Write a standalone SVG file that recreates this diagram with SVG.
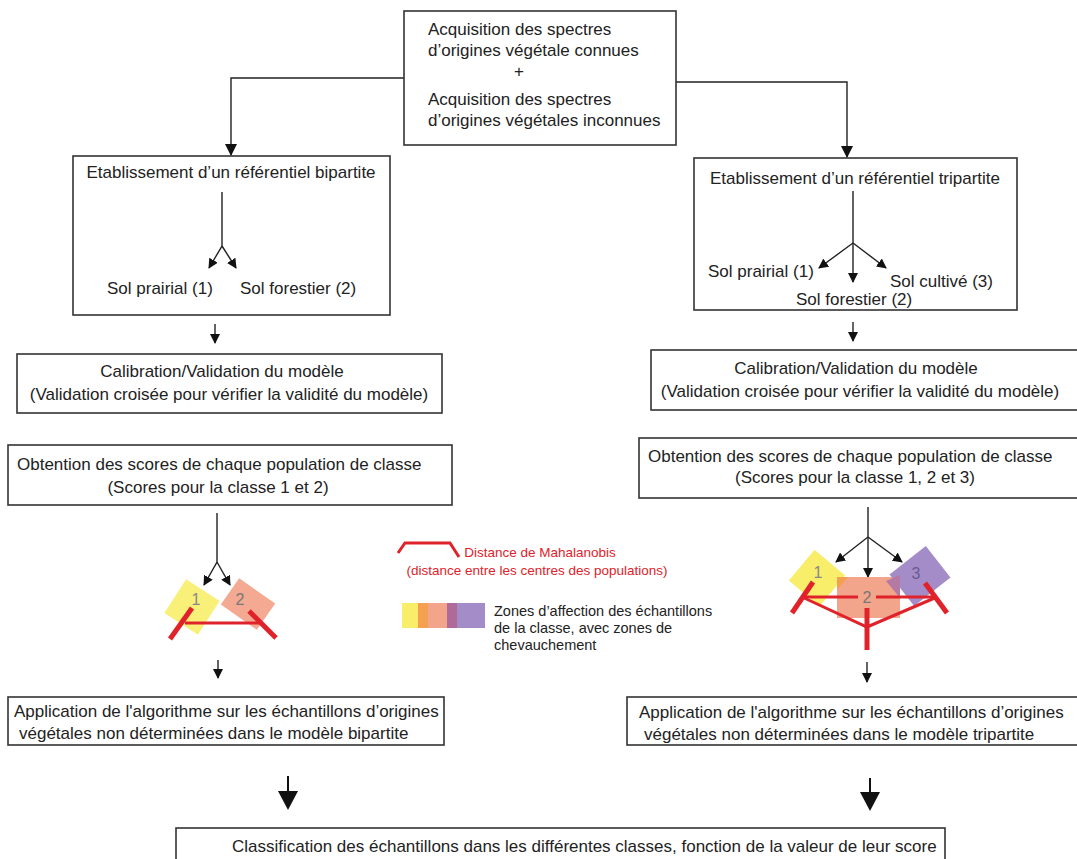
<svg xmlns="http://www.w3.org/2000/svg" width="1077" height="859" viewBox="0 0 1077 859">
<defs>
<style>
.box{fill:#fff;stroke:#333;stroke-width:1.6}
.t{font-family:"Liberation Sans",Arial,sans-serif;font-size:17px;fill:#222}
.tc{text-anchor:middle}
.ln{stroke:#222;stroke-width:1.4;fill:none}
.red{stroke:#e0222a;fill:none;stroke-linecap:butt}
.lg{font-family:"Liberation Sans",Arial,sans-serif;font-size:14.5px}
.lr{font-family:"Liberation Sans",Arial,sans-serif;font-size:13.5px;fill:#e0222a;text-anchor:middle}
</style>
<marker id="ah" markerWidth="10" markerHeight="10" refX="9" refY="5" orient="auto" markerUnits="userSpaceOnUse" viewBox="0 0 10 10">
<path d="M0,0 L10,5 L0,10 z" fill="#111"/>
</marker>
<marker id="ahs" markerWidth="12" markerHeight="12" refX="11" refY="6" orient="auto" markerUnits="userSpaceOnUse" viewBox="0 0 12 12">
<path d="M0,0 L12,6 L0,12 z" fill="#111"/>
</marker>
</defs>
<rect width="1077" height="859" fill="#fff"/>

<g id="connectors">
<path class="ln" d="M404,78 H231 V155" marker-end="url(#ahs)"/>
<path class="ln" d="M676,82 H847 V157" marker-end="url(#ahs)"/>
<path class="ln" d="M215,324 V343" marker-end="url(#ah)"/>
<path class="ln" d="M853,322 V341" marker-end="url(#ah)"/>
<path class="ln" d="M218,660 V678" marker-end="url(#ah)"/>
<path class="ln" d="M867,662 V682" marker-end="url(#ah)"/>
<line x1="288" y1="776" x2="288" y2="792" stroke="#111" stroke-width="2"/>
<polygon points="278,791 298,791 288,810" fill="#111"/>
<line x1="870" y1="778" x2="870" y2="793" stroke="#111" stroke-width="2"/>
<polygon points="860,792 880,792 870,811" fill="#111"/>
</g>

<g id="n-acquisition">
<rect class="box" x="404" y="11" width="272" height="134"/>
<text class="t" x="428" y="35">Acquisition des spectres</text>
<text class="t" x="428" y="56">d’origines végétale connues</text>
<text class="t" x="514" y="77">+</text>
<text class="t" x="428" y="105">Acquisition des spectres</text>
<text class="t" x="428" y="126">d’origines végétales inconnues</text>
</g>

<g id="n-bipartite">
<rect class="box" x="73" y="156" width="317" height="159"/>
<text class="t tc" x="231" y="178">Etablissement d’un référentiel bipartite</text>
<path class="ln" d="M222,192 V246 L209,268" marker-end="url(#ah)"/>
<path class="ln" d="M222,246 L236,268" marker-end="url(#ah)"/>
<text class="t" x="107" y="294">Sol prairial (1)</text>
<text class="t" x="240" y="294">Sol forestier (2)</text>
</g>

<g id="n-tripartite">
<rect class="box" x="694" y="158" width="323" height="152"/>
<text class="t tc" x="855" y="184">Etablissement d’un référentiel tripartite</text>
<path class="ln" d="M853,191 V243 L819,268" marker-end="url(#ah)"/>
<path class="ln" d="M853,243 V282" marker-end="url(#ah)"/>
<path class="ln" d="M853,243 L886,268" marker-end="url(#ah)"/>
<text class="t" x="708" y="277">Sol prairial (1)</text>
<text class="t" x="890" y="287">Sol cultivé (3)</text>
<text class="t" x="796" y="305">Sol forestier (2)</text>
</g>

<g id="n-calib-left">
<rect class="box" x="17" y="354" width="425" height="59"/>
<text class="t tc" x="222" y="377">Calibration/Validation du modèle</text>
<text class="t tc" x="229" y="400">(Validation croisée pour vérifier la validité du modèle)</text>
</g>

<g id="n-calib-right">
<rect class="box" x="651" y="350" width="430" height="60"/>
<text class="t tc" x="856" y="374">Calibration/Validation du modèle</text>
<text class="t tc" x="860" y="397">(Validation croisée pour vérifier la validité du modèle)</text>
</g>

<g id="n-scores-left">
<rect class="box" x="8" y="445" width="444" height="60"/>
<text class="t" x="17" y="470">Obtention des scores de chaque population de classe</text>
<text class="t tc" x="218" y="493">(Scores pour la classe 1  et 2)</text>
</g>

<g id="n-scores-right">
<rect class="box" x="639" y="438" width="442" height="60"/>
<text class="t" x="648" y="462">Obtention des scores de chaque population de classe</text>
<text class="t tc" x="855" y="483">(Scores pour la classe 1, 2 et 3)</text>
</g>

<g id="n-plot-left">
<path class="ln" d="M217,513 V562 L204,585" marker-end="url(#ah)"/>
<path class="ln" d="M217,562 L230,585" marker-end="url(#ah)"/>
<rect x="-20" y="-20" width="40" height="40" fill="#f8ee6a" opacity="0.9" transform="translate(192,607) rotate(33)"/>
<rect x="-22" y="-16" width="44" height="32" fill="#f3a58c" opacity="0.95" transform="translate(248,604) rotate(35)"/>
<text x="196" y="605" font-family="Liberation Sans,Arial,sans-serif" font-size="16" fill="#888" text-anchor="middle">1</text>
<text x="240" y="605" font-family="Liberation Sans,Arial,sans-serif" font-size="16" fill="#777" text-anchor="middle">2</text>
<line class="red" x1="192" y1="608" x2="170" y2="639" stroke-width="5"/>
<line class="red" x1="249" y1="611" x2="276" y2="638" stroke-width="5"/>
<line class="red" x1="185" y1="623" x2="260" y2="623" stroke-width="3"/>
</g>

<g id="n-plot-right">
<path class="ln" d="M868,507 V537 L836,562" marker-end="url(#ah)"/>
<path class="ln" d="M868,537 V577" marker-end="url(#ah)"/>
<path class="ln" d="M868,537 L902,562" marker-end="url(#ah)"/>
<rect x="-20" y="-20" width="40" height="40" fill="#f8ee6a" transform="translate(817,578) rotate(40)"/>
<rect x="837" y="577" width="63" height="41" fill="#f3a58c"/>
<path d="M837,577 L848,577 L837,590 z" fill="#f5a050"/>
<rect x="-23" y="-20" width="46" height="40" fill="#a48cc8" transform="translate(920,576) rotate(-38)"/>
<path d="M886,581 L900,575 L900,598 z" fill="#b47aa4"/>
<text x="818" y="578" font-family="Liberation Sans,Arial,sans-serif" font-size="16" fill="#888" text-anchor="middle">1</text>
<text x="916" y="579" font-family="Liberation Sans,Arial,sans-serif" font-size="16" fill="#6a5a90" text-anchor="middle">3</text>
<line class="red" x1="802" y1="597" x2="858" y2="597" stroke-width="3"/>
<line class="red" x1="876" y1="597" x2="937" y2="597" stroke-width="3"/>
<text x="867" y="603" font-family="Liberation Sans,Arial,sans-serif" font-size="16" fill="#777" text-anchor="middle">2</text>
<polyline class="red" points="802,597 867,627 937,597" stroke-width="3"/>
<line class="red" x1="813" y1="582" x2="792" y2="613" stroke-width="5"/>
<line class="red" x1="925" y1="583" x2="947" y2="613" stroke-width="5"/>
<line class="red" x1="867" y1="608" x2="867" y2="650" stroke-width="5"/>
</g>

<g id="n-legend">
<polyline class="red" points="398,553 405,543 450,543 459,557" stroke-width="3"/>
<text class="lr" x="540" y="557">Distance de Mahalanobis</text>
<text class="lr" x="537" y="575">(distance entre les centres des populations)</text>
<rect x="402" y="603" width="16" height="25" fill="#f8ee6a"/>
<rect x="418" y="603" width="10" height="25" fill="#f5a050"/>
<rect x="428" y="603" width="19" height="25" fill="#f3a58c"/>
<rect x="447" y="603" width="10" height="25" fill="#b06a9a"/>
<rect x="457" y="603" width="28" height="25" fill="#a48cc8"/>
<text class="lg" x="494" y="616" fill="#222">Zones d’affection des échantillons</text>
<text class="lg" x="494" y="633" fill="#222">de la classe, avec zones de</text>
<text class="lg" x="494" y="650" fill="#222">chevauchement</text>
</g>

<g id="n-app-left">
<rect class="box" x="8" y="697" width="436" height="48"/>
<text class="t" x="14" y="717">Application de l'algorithme sur les échantillons d’origines</text>
<text class="t" x="19" y="739">végétales non déterminées dans le modèle bipartite</text>
</g>

<g id="n-app-right">
<rect class="box" x="627" y="697" width="454" height="48"/>
<text class="t" x="639" y="718">Application de l'algorithme sur les échantillons d’origines</text>
<text class="t" x="644" y="740">végétales non déterminées dans le modèle tripartite</text>
</g>

<g id="n-classification">
<rect class="box" x="176" y="828" width="769" height="40"/>
<text class="t" x="232" y="852">Classification des échantillons dans les différentes classes, fonction de la valeur de leur score</text>
</g>
</svg>
